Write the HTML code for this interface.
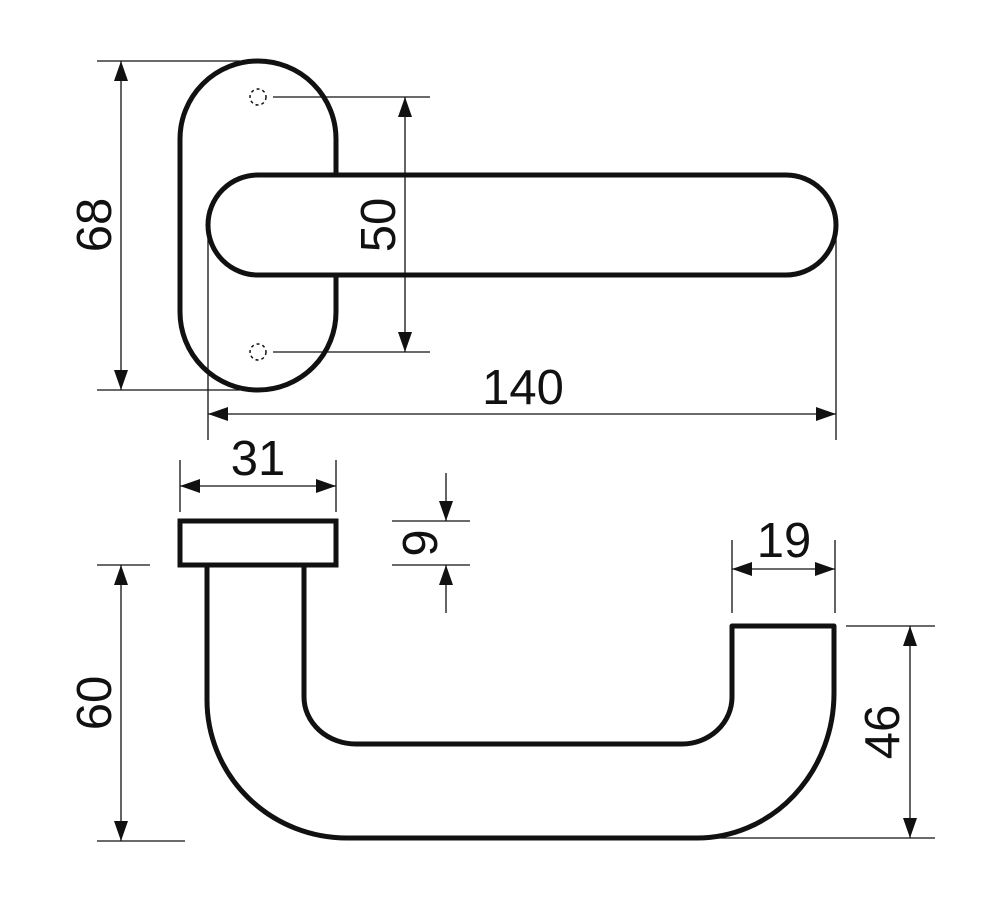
<!DOCTYPE html>
<html><head><meta charset="utf-8"><style>
html,body{margin:0;padding:0;background:#fff;}
svg{display:block;}
text{font-family:"Liberation Sans",sans-serif;font-size:49px;fill:#111;}
</style></head><body>
<svg width="1000" height="904" viewBox="0 0 1000 904" xmlns="http://www.w3.org/2000/svg">
<defs>
<marker id="a" viewBox="0 0 20 14" refX="20" refY="7" markerWidth="20" markerHeight="14" markerUnits="userSpaceOnUse" orient="auto-start-reverse">
<path d="M0,0 L20,7 L0,14 Z" fill="#111"/>
</marker>
</defs>
<g stroke="#111" fill="none">
<rect x="180" y="61" width="156" height="329" rx="78" ry="78" stroke-width="5" fill="#fff"/>
<rect x="208" y="175" width="628" height="100" rx="50" ry="50" stroke-width="5" fill="#fff"/>
<circle cx="258" cy="97" r="8" stroke-width="1.5" stroke-dasharray="3,3"/>
<circle cx="258" cy="352" r="8" stroke-width="1.5" stroke-dasharray="3,3"/>

<g stroke-width="1.3">
<line x1="97" y1="61" x2="240" y2="61"/>
<line x1="97" y1="390" x2="240" y2="390"/>
<line x1="121" y1="61" x2="121" y2="390" marker-start="url(#a)" marker-end="url(#a)"/>
<line x1="273" y1="97" x2="430" y2="97"/>
<line x1="273" y1="352" x2="430" y2="352"/>
<line x1="405" y1="97" x2="405" y2="352" marker-start="url(#a)" marker-end="url(#a)"/>
<line x1="208" y1="225" x2="208" y2="440"/>
<line x1="836" y1="225" x2="836" y2="440"/>
<line x1="208" y1="414" x2="836" y2="414" marker-start="url(#a)" marker-end="url(#a)"/>

<line x1="180" y1="460" x2="180" y2="512"/>
<line x1="336" y1="460" x2="336" y2="512"/>
<line x1="180" y1="486" x2="336" y2="486" marker-start="url(#a)" marker-end="url(#a)"/>

<line x1="392" y1="521" x2="470" y2="521"/>
<line x1="392" y1="565" x2="470" y2="565"/>
<line x1="446" y1="473" x2="446" y2="521" marker-end="url(#a)"/>
<line x1="446" y1="613" x2="446" y2="565" marker-end="url(#a)"/>

<line x1="732" y1="540" x2="732" y2="613"/>
<line x1="835" y1="540" x2="835" y2="613"/>
<line x1="732" y1="569" x2="835" y2="569" marker-start="url(#a)" marker-end="url(#a)"/>

<line x1="846" y1="626" x2="935" y2="626"/>
<line x1="700" y1="838" x2="935" y2="838"/>
<line x1="910" y1="626" x2="910" y2="838" marker-start="url(#a)" marker-end="url(#a)"/>

<line x1="97" y1="565" x2="150" y2="565"/>
<line x1="97" y1="841" x2="185" y2="841"/>
<line x1="121" y1="565" x2="121" y2="841" marker-start="url(#a)" marker-end="url(#a)"/>
</g>

<rect x="180" y="521" width="156" height="44" stroke-width="5"/>
<path d="M207,565 L207,700 A140,138 0 0 0 347,838 L697,838 A137,145 0 0 0 834,693 L834,626 L732,626 L732,697 A50,47 0 0 1 682,744 L356,744 A52,47 0 0 1 304,697 L304,565" stroke-width="5" stroke-linejoin="round"/>
</g>

<text transform="translate(111,225) rotate(-90)" text-anchor="middle">68</text>
<text transform="translate(395,225) rotate(-90)" text-anchor="middle">50</text>
<text x="523" y="404" text-anchor="middle">140</text>
<text x="258" y="475" text-anchor="middle">31</text>
<text transform="translate(437,543) rotate(-90)" text-anchor="middle">9</text>
<text x="784" y="557" text-anchor="middle">19</text>
<text transform="translate(899,732) rotate(-90)" text-anchor="middle">46</text>
<text transform="translate(111,703) rotate(-90)" text-anchor="middle">60</text>
</svg>
</body></html>
